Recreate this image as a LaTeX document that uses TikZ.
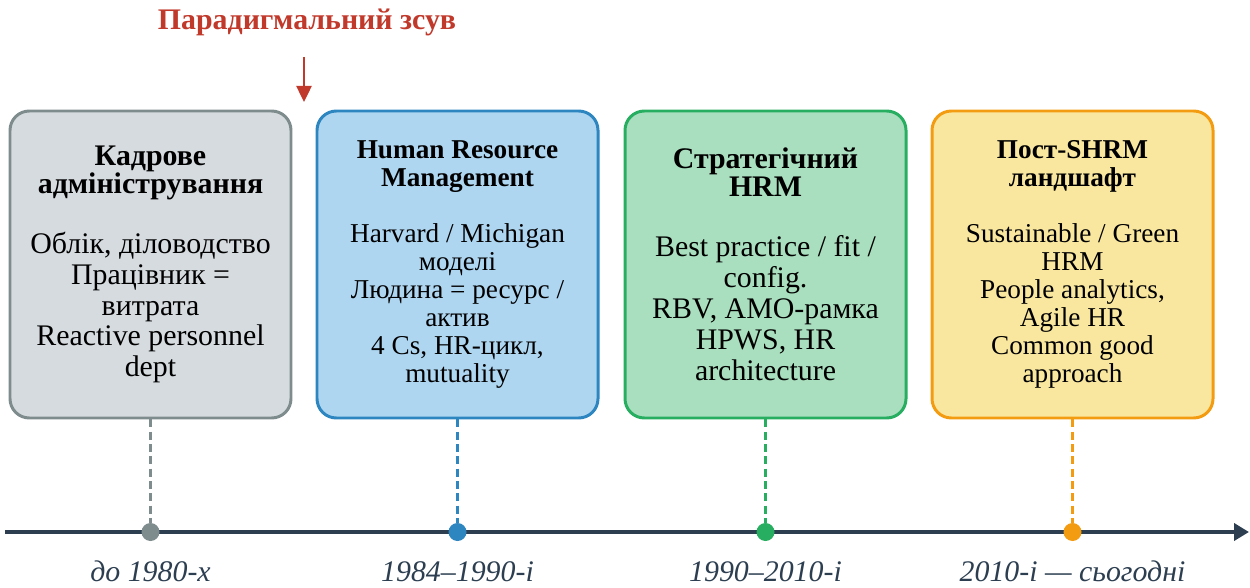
\documentclass[tikz,border=0pt]{standalone}
\usepackage{fontspec}
\setmainfont{Liberation Serif}
\definecolor{tlgrey}{HTML}{7F8C8D}
\definecolor{tlgreyfill}{HTML}{D6DBDF}
\definecolor{tlblue}{HTML}{2E86C1}
\definecolor{tlbluefill}{HTML}{AED6F1}
\definecolor{tlgreen}{HTML}{27AE60}
\definecolor{tlgreenfill}{HTML}{A9DFBF}
\definecolor{tlamber}{HTML}{F39C12}
\definecolor{tlamberfill}{HTML}{F9E79F}
\definecolor{tlred}{HTML}{C0392B}
\definecolor{tlaxis}{HTML}{2C3E50}
\usetikzlibrary{arrows.meta}
\newcommand{\bodyL}{\fontsize{17}{17.6}\selectfont}
\newcommand{\bodyS}{\fontsize{15.5}{15.9}\selectfont}
\newcommand{\erat}[1]{{\fontsize{17}{16}\selectfont\bfseries #1}}
\newcommand{\eras}[1]{{\fontsize{15.5}{15.9}\selectfont\bfseries #1}}

\begin{document}
\begin{tikzpicture}[
  era/.style={draw=#1,line width=1.7pt,rounded corners=11pt,
    minimum width=5.62cm,minimum height=6.14cm,align=center,inner sep=2pt},
  dot/.style={circle,fill=#1,inner sep=0pt,minimum size=0.36cm},
  drop/.style={draw=#1,dash pattern=on 4.5pt off 2.5pt,line width=1.4pt},
  lbl/.style={font=\fontsize{17}{18}\selectfont\itshape,text=tlaxis,anchor=base},
  tline/.style={tlaxis,line width=2.4pt,-{Triangle[length=3mm,width=3.4mm]}}]
\useasboundingbox (0,0) rectangle (25,11.74);
% eras
\node[era=tlgrey,fill=tlgreyfill,font=\bodyL] (g1) at (3.01,6.45)
  {\erat{Кадрове}\\[-1.7pt] \erat{адміністрування}\\[16.5pt]
   Облік, діловодство\\ Працівник =\\ витрата\\ Reactive personnel\\ dept};
\node[era=tlblue,fill=tlbluefill,font=\bodyS] (g2) at (9.15,6.45)
  {\eras{Human Resource}\\ \eras{Management}\\[15.9pt]
   Harvard / Michigan\\ моделі\\ Людина = ресурс /\\ актив\\ 4 Cs, HR-цикл,\\ mutuality};
\node[era=tlgreen,fill=tlgreenfill,font=\bodyL] (g3) at (15.31,6.45)
  {\erat{Стратегічний}\\[-1.7pt] \erat{HRM}\\[16.5pt]
   Best practice / fit /\\ config.\\ RBV, AMO-рамка\\ HPWS, HR\\ architecture};
\node[era=tlamber,fill=tlamberfill,font=\bodyS] (g4) at (21.45,6.45)
  {\eras{Пост-SHRM}\\ \eras{ландшафт}\\[15.9pt]
   Sustainable / Green\\ HRM\\ People analytics,\\ Agile HR\\ Common good\\ approach};
% shift marker
\node[font=\fontsize{17}{20}\selectfont\bfseries,text=tlred] (shift) at (6.14,11.3) {Парадигмальний зсув};
\coordinate (sh0) at (6.08,10.6);
\coordinate (sh1) at (6.08,9.7);
\draw[tlred,line width=1.4pt,-{Triangle[length=3.2mm,width=3mm]}] (sh0) -- (sh1);
% axis
\coordinate (ax0) at (0.1,1.10);
\coordinate (ax1) at (24.98,1.10);
\draw[tline] (ax0) -- (ax1);
\node[dot=tlgrey] (d1) at (3.01,1.10) {};
\node[dot=tlblue] (d2) at (9.15,1.10) {};
\node[dot=tlgreen] (d3) at (15.31,1.10) {};
\node[dot=tlamber] (d4) at (21.45,1.10) {};
\draw[drop=tlgrey] (g1) -- (d1);
\draw[drop=tlblue] (g2) -- (d2);
\draw[drop=tlgreen] (g3) -- (d3);
\draw[drop=tlamber] (g4) -- (d4);
% dates
\node[lbl] (t1) at (3.01,0.12) {до 1980-х};
\node[lbl] (t2) at (9.15,0.12) {1984–1990-і};
\node[lbl] (t3) at (15.31,0.12) {1990–2010-і};
\node[lbl] (t4) at (21.45,0.12) {2010-і — сьогодні};
\end{tikzpicture}
\end{document}
